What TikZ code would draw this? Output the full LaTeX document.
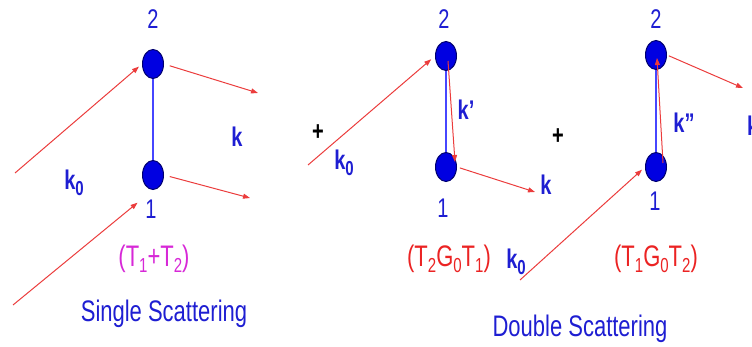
\documentclass[tikz,border=0pt]{standalone}
\usepackage{fontspec}
\setmainfont{Liberation Sans}
\usetikzlibrary{shapes.geometric,arrows.meta,calc}
\definecolor{txtblue}{RGB}{30,30,210}
\definecolor{ballblue}{RGB}{0,0,225}
\definecolor{balledge}{RGB}{0,0,110}
\definecolor{rodblue}{RGB}{70,70,255}
\definecolor{rayred}{RGB}{235,60,60}
\definecolor{magtxt}{RGB}{215,40,215}
\definecolor{redtxt}{RGB}{235,35,35}
\newcommand{\vst}[1]{\scalebox{1}[1.35]{#1}}
\newcommand{\lowidx}[1]{\raisebox{-0.4ex}{\fontsize{15}{15}\selectfont #1}}
\begin{document}
\begin{tikzpicture}[x=1pt,y=-1pt,
  ball/.style={ellipse,draw=balledge,line width=1pt,fill=ballblue,minimum width=21pt,minimum height=29pt,inner sep=0pt},
  rod/.style={draw=rodblue,line width=1.1pt},
  ray/.style={draw=rayred,line width=1pt,-{Triangle[length=7pt,width=5pt]}},
  lab/.style={font=\fontsize{20}{22}\selectfont,text=txtblue,inner sep=0pt},
  klab/.style={font=\fontsize{20}{22}\selectfont\bfseries,text=txtblue,inner sep=0pt},
  plus/.style={font=\fontsize{20}{22}\selectfont\bfseries,text=black,inner sep=0pt},
  title/.style={font=\fontsize{22}{24}\selectfont,text=txtblue,inner sep=0pt},
  tmat/.style={font=\fontsize{22}{24}\selectfont,inner sep=0pt}
]
\useasboundingbox (0,0) rectangle (752,347);
\clip (0,0) rectangle (752,347);

% ---------- panel 1: single scattering ----------
\node[ball] (n2a) at (153,64) {};
\node[ball] (n1a) at (153,175) {};
\draw[rod] (n2a.south) -- (n1a.north);
\node[lab] (t2a) at (153,19) {\vst{2}};
\node[lab] (t1a) at (151,209) {\vst{1}};
\node[klab] (k0a) at (74,183) {\vst{k\lowidx{0}}};
\node[klab] (ka) at (237,137) {\vst{k}};
\node[tmat,text=magtxt] (tta) at (154,259) {\vst{(T\lowidx{1}+T\lowidx{2})}};
\node[title] (single) at (164,314) {\vst{Single Scattering}};
\coordinate (s1a) at (15,173);
\coordinate (s2a) at (13,305);
\coordinate (e1a) at (258,93);
\coordinate (e2a) at (250,198);
\draw[ray,shorten >=4pt] (s1a) -- (n2a.west);
\draw[ray,shorten >=20pt] (s2a) -- (n1a.south);
\draw[ray,shorten <=6pt] (n2a.east) -- (e1a);
\draw[ray,shorten <=6pt] (n1a.east) -- (e2a);

% ---------- panel 2 ----------
\node[ball] (n2b) at (446,56) {};
\node[ball] (n1b) at (446,167) {};
\draw[rod] (n2b.south) -- (n1b.north);
\node[lab] (t2b) at (444,19) {\vst{2}};
\node[lab] (t1b) at (443,208) {\vst{1}};
\node[plus] (plus1) at (318,133) {\vst{+}};
\node[klab] (k0b) at (344,163) {\vst{k\lowidx{0}}};
\node[klab] (kpb) at (466,110) {\vst{k'}};
\node[klab] (kb) at (546,185) {\vst{k}};
\node[tmat,text=redtxt] (ttb) at (449,259) {\vst{(T\lowidx{2}G\lowidx{0}T\lowidx{1})}};
\coordinate (s1b) at (308,165);
\coordinate (e1b) at (535,192);
\draw[ray,shorten >=5pt] (s1b) -- (n2b.west);
\draw[ray] ($(n2b.center)+(2,5)$) -- ($(n1b.center)+(9,-5)$);
\draw[ray,shorten <=3pt] (n1b.east) -- (e1b);

% ---------- panel 3 ----------
\node[ball] (n2c) at (656,55) {};
\node[ball] (n1c) at (656,167) {};
\draw[rod] (n2c.south) -- (n1c.north);
\node[lab] (t2c) at (656,19) {\vst{2}};
\node[lab] (t1c) at (655,201) {\vst{1}};
\node[plus] (plus2) at (558,137) {\vst{+}};
\node[klab] (k0c) at (516,262) {\vst{k\lowidx{0}}};
\node[klab] (kppc) at (684,123) {\vst{k''}};
\node[klab,anchor=west] (kc) at (747,126) {\vst{k}};
\node[tmat,text=redtxt] (ttc) at (656,259) {\vst{(T\lowidx{1}G\lowidx{0}T\lowidx{2})}};
\node[title] (double) at (580,329) {\vst{Double Scattering}};
\coordinate (s1c) at (520,280);
\coordinate (e1c) at (743,88);
\draw[ray,shorten >=4pt] (s1c) -- (n1c.west);
\draw[ray] ($(n1c.center)+(7,-4)$) -- ($(n2c.center)+(1,3)$);
\draw[ray,shorten <=2pt] (n2c.east) -- (e1c);
\end{tikzpicture}
\end{document}
